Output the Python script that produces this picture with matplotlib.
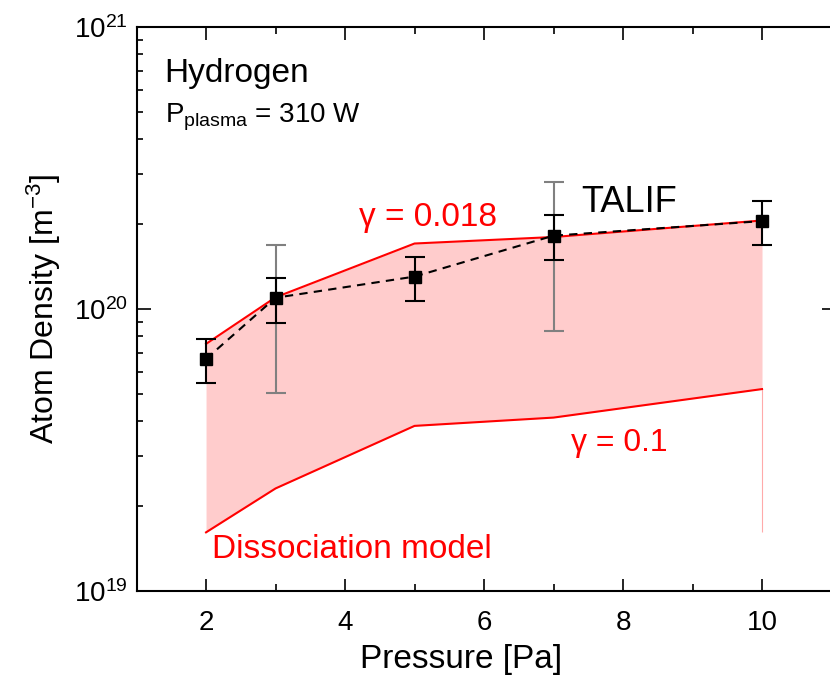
import numpy as np
import matplotlib.pyplot as plt
from matplotlib.ticker import LogLocator, MultipleLocator

plt.rcParams['font.family'] = ['Liberation Sans', 'DejaVu Sans']
plt.rcParams['mathtext.fontset'] = 'custom'
plt.rcParams['mathtext.rm'] = 'Liberation Sans'
plt.rcParams['mathtext.it'] = 'Liberation Sans:italic'

# TALIF-Messwerte
pressure = [2, 3, 5, 7, 10]
density = [6.65e19, 1.096e20, 1.303e20, 1.82e20, 2.05e20]
err_lo = [5.47e19, 8.94e19, 1.065e20, 1.496e20, 1.68e20]
err_hi = [7.83e19, 1.289e20, 1.53e20, 2.155e20, 2.42e20]

# grössere (graue) Fehlerbalken bei 3 und 7 Pa
gray_p = [3, 7]
gray_val = [1.096e20, 1.82e20]
gray_lo = [5.02e19, 8.36e19]
gray_hi = [1.687e20, 2.81e20]

# Dissoziationsmodell
model_p = [2, 3, 5, 7, 10]
gamma_0018 = [7.52e19, 1.10e20, 1.707e20, 1.80e20, 2.06e20]
gamma_01 = [1.614e19, 2.31e19, 3.85e19, 4.12e19, 5.20e19]

red = '#ff0000'
pink = '#ffcccc'

fig = plt.figure(figsize=(8.3, 6.84), dpi=100)
ax = fig.add_axes([0.1645, 0.136, 0.8432, 0.8245])

ax.fill_between(model_p, gamma_01, gamma_0018, color=pink, lw=0)
ax.vlines(model_p[-1], gamma_01[0], gamma_01[-1], color='#ffaaaa', lw=0.8)
ax.plot(model_p, gamma_0018, color=red, lw=1.5)
ax.plot(model_p, gamma_01, color=red, lw=1.5)

g = np.array(gray_val)
ax.errorbar(gray_p, gray_val,
            yerr=[g - np.array(gray_lo), np.array(gray_hi) - g],
            fmt='none', ecolor='#808080', elinewidth=1.5, capsize=7, capthick=1.5)

d = np.array(density)
ax.errorbar(pressure, density,
            yerr=[d - np.array(err_lo), np.array(err_hi) - d],
            fmt='none', ecolor='black', elinewidth=1.5, capsize=7, capthick=1.5)
ax.plot(pressure, density, color='black', ls=(0, (4, 3)), lw=1.5,
        marker='s', ms=9)

ax.set_yscale('log')
ax.set_ylim(1e19, 1e21)
ax.set_xlim(1, 11.07)
ax.xaxis.set_major_locator(MultipleLocator(2))
ax.xaxis.set_minor_locator(MultipleLocator(1))
ax.yaxis.set_major_locator(LogLocator(base=10))
ax.yaxis.set_minor_locator(LogLocator(base=10, subs=np.arange(2, 10)))

ax.tick_params(which='both', direction='in', top=True, right=True, width=1.2)
ax.tick_params(which='major', length=9, labelsize=20)
ax.tick_params(which='minor', length=5)
ax.tick_params(axis='x', which='major', pad=14)
ax.tick_params(axis='y', which='major', length=10, pad=6)
ax.tick_params(axis='y', which='minor', length=4)
for s in ax.spines.values():
    s.set_linewidth(1.5)

ax.set_xlabel('Pressure [Pa]', fontsize=24)
ax.xaxis.set_label_coords(0.464, -0.122)
ax.xaxis.label.set_va('center')
ax.set_ylabel('Atom Density [m$^{-3}$]', fontsize=23, labelpad=8)

ax.text(0.04, 0.918, 'Hydrogen', transform=ax.transAxes, fontsize=24,
        va='center')
ax.text(0.04, 0.84, r'P$_{\mathrm{plasma}}$ = 310 W', transform=ax.transAxes,
        fontsize=20, va='center')

ax.text(4.2, 2.11e20, 'γ = 0.018', color=red, fontsize=24, va='center')
ax.text(7.4, 2.39e20, 'TALIF', color='black', fontsize=26, va='center')
ax.text(7.25, 3.36e19, 'γ = 0.1', color=red, fontsize=23, va='center')
ax.text(2.08, 1.40e19, 'Dissociation model', color=red, fontsize=24,
        va='center')

fig.savefig('out.png', dpi=100)
